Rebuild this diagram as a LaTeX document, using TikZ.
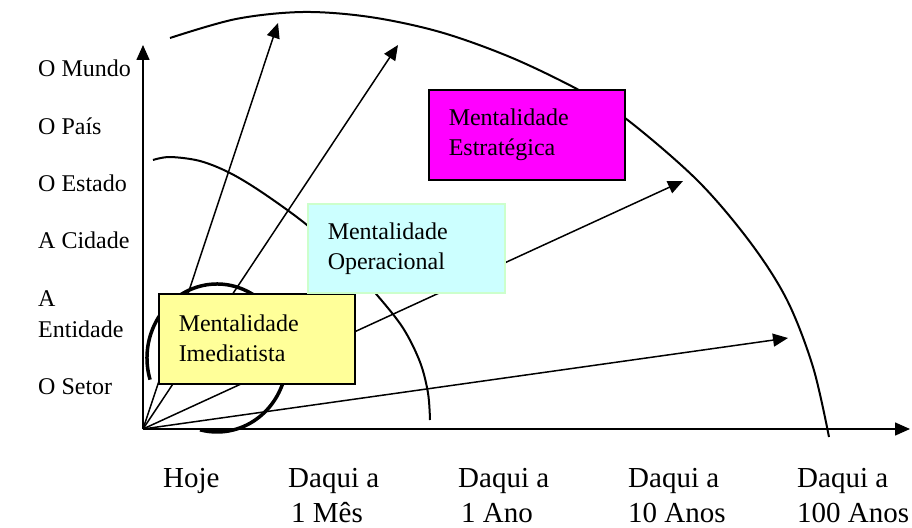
\documentclass[tikz,border=0pt]{standalone}
\usepackage{fontspec}
\setmainfont{Liberation Serif}
\usetikzlibrary{arrows.meta}
\definecolor{boxyellow}{HTML}{FFFF99}
\definecolor{boxcyan}{HTML}{CCFFFF}
\definecolor{cyanedge}{HTML}{CCFFCC}
\definecolor{boxmag}{HTML}{FF00FF}
\begin{document}
\begin{tikzpicture}[x=1pt,y=-1pt,
  axisline/.style={line width=1.5pt,-{Triangle[length=15pt,width=13pt]}},
  ray/.style={line width=1.5pt,-{Triangle[length=15pt,width=13pt]}},
  horizon/.style={line width=2pt},
  lefttxt/.style={anchor=base west,inner sep=0pt,font=\fontsize{24}{29}\selectfont},
  bottxt/.style={anchor=base west,inner sep=0pt,font=\fontsize{29}{35}\selectfont},
  mbox/.style={anchor=north west,minimum width=196pt,minimum height=90pt,
    inner xsep=20pt,inner ysep=0pt,text width=156pt,align=left,
    font=\fontsize{24}{30}\selectfont}]
\useasboundingbox (0,0) rectangle (912,527);
% coordinates
\coordinate (O) at (143,429);
\coordinate (ytip) at (143,45);
\coordinate (xtip) at (910,429);
\coordinate (t1) at (278,23);
\coordinate (t2) at (398,45);
\coordinate (t3) at (683,181);
\coordinate (t4) at (788,338);
\coordinate (ec) at (217,358);
% axes
\draw[axisline] (O) -- (ytip);
\draw[axisline] (O) -- (xtip);
% rays
\draw[ray] (O) -- (t1);
\draw[ray] (O) -- (t2);
\draw[ray] (O) -- (t3);
\draw[ray] (O) -- (t4);
% big horizon
\draw[horizon] plot[smooth,tension=0.55] coordinates {(170,38) (236,19) (303,12) (370,17) (440,32) (510,57) (577,89) (625,118) (697,180) (750,242) (787,300) (813,367) (829,437)};
% middle horizon
\draw[horizon] plot[smooth,tension=0.55] coordinates {(153,160) (170,157) (200,161) (230,173) (263,193) (307,225) (345,260) (377,295) (403,328) (420,362) (428,393) (430,420)};
% small horizon
\draw[line width=3.5pt] ([shift={(163:70 and 74)}]ec) arc[start angle=163,end angle=464,x radius=70,y radius=74];
% boxes
\node[mbox,draw=black,line width=1.5pt,fill=boxyellow] (imed) at (158,293) {Mentalidade\\Imediatista};
\node[mbox,draw=cyanedge,line width=1.5pt,fill=boxcyan,minimum width=197pt,minimum height=89pt,text width=157pt] (oper) at (307,203) {Mentalidade\\Operacional};
\node[mbox,draw=black,line width=1.5pt,fill=boxmag] (estr) at (428,89) {Mentalidade\\Estratégica};
% left labels
\node[lefttxt] (l1) at (38,77) {O Mundo};
\node[lefttxt] (l2) at (38,134) {O País};
\node[lefttxt] (l3) at (38,191) {O Estado};
\node[lefttxt] (l4) at (38,248) {A Cidade};
\node[lefttxt] (l5a) at (38,306) {A};
\node[lefttxt] (l5b) at (38,337) {Entidade};
\node[lefttxt] (l6) at (38,394) {O Setor};
% bottom labels
\node[bottxt] (b0) at (163,487) {Hoje};
\node[bottxt] (b1a) at (288,487) {Daqui a};
\node[bottxt] (b1b) at (291,522) {1 Mês};
\node[bottxt] (b2a) at (458,487) {Daqui a};
\node[bottxt] (b2b) at (461,522) {1 Ano};
\node[bottxt] (b3a) at (628,487) {Daqui a};
\node[bottxt] (b3b) at (628,522) {10 Anos};
\node[bottxt] (b4a) at (797,487) {Daqui a};
\node[bottxt] (b4b) at (797,522) {100 Anos};
\end{tikzpicture}
\end{document}
